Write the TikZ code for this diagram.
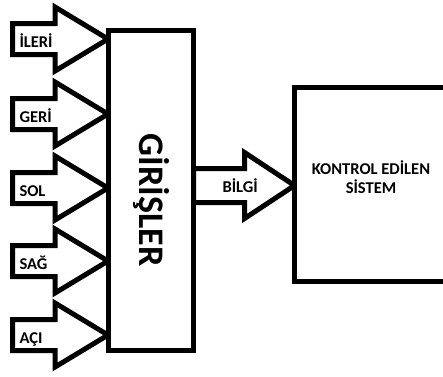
\documentclass[tikz,border=0pt]{standalone}
\usepackage{fontspec}
\setmainfont{Carlito}
\usetikzlibrary{calc,backgrounds}
\begin{document}
\begin{tikzpicture}[x=1pt,y=-1pt,line width=5pt,line join=miter,
  box/.style={draw,fill=white,line width=5pt,rectangle,inner sep=0pt,outer sep=0pt},
  arr/.style={draw,fill=white,line width=5pt,line join=miter},
  lbl/.style={font=\fontsize{16.5}{19.5}\selectfont\bfseries,inner sep=0pt},
  big/.style={font=\fontsize{36}{40}\selectfont\bfseries,inner sep=0pt,rotate=-90}]
\clip (0,0) rectangle (443,376);
\node[box,minimum width=85.5pt,minimum height=320pt] (gir) at (150.75,190.5) {};
\node[box,minimum width=166pt,minimum height=194pt,anchor=west] (ks) at (294.5,184) {};
\node[big] (girt) at (152,200) {GİRİŞLER};
\node[lbl,align=center] (kst) at (371,177) {KONTROL EDİLEN\\SİSTEM};
\begin{scope}[on background layer]
\foreach \c [count=\i] in {39,114,188,261,335}{
  \coordinate (tip\i) at (gir.west |- 0,\c);
  \draw[arr] (tip\i) -- ++(-53,-32) -- ++(0,16.5) -- ++(-42.5,0) -- ++(0,31)
     -- ++(42.5,0) -- ++(0,16.5) -- cycle;
}
\coordinate (bs) at (gir.east |- 0,185.5);
\coordinate (bt) at (ks.west |- 0,185.5);
\draw[arr] (bt) -- ($(bt)+(-50,-33)$) -- ($(bt)+(-50,-17)$) -- ($(bs)+(0,-17)$)
  -- ($(bs)+(0,17)$) -- ($(bt)+(-50,17)$) -- ($(bt)+(-50,33)$) -- cycle;
\end{scope}
\foreach \c/\t [count=\i] in {39/İLERİ,114/GERİ,188/SOL,261/SAĞ,335/AÇI}{
  \node[lbl,anchor=base west] (l\i) at (17,\c+8) {\t};
}
\node[lbl,anchor=base west] (lb) at (220,192) {BİLGİ};
\end{tikzpicture}
\end{document}
